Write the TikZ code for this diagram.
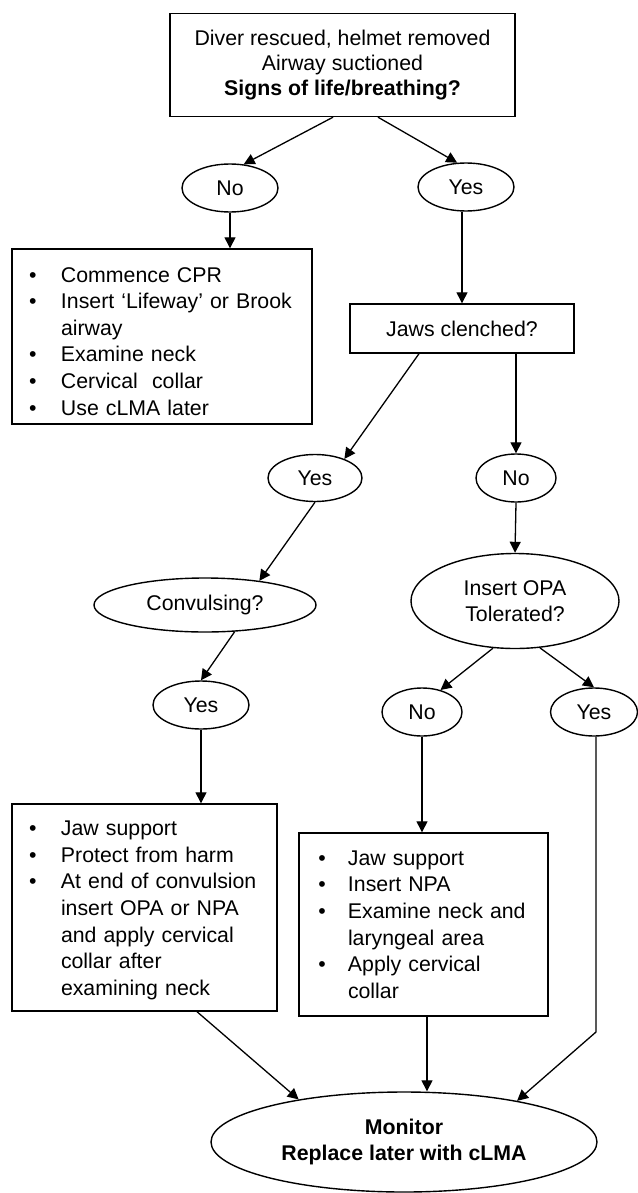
\documentclass[tikz,border=0pt]{standalone}
\usepackage{fontspec}
\setmainfont{Liberation Sans}
\usetikzlibrary{shapes.geometric,arrows.meta}
\newlength\bind
\setlength\bind{32pt}
\newcommand\bitem{\par\noindent\hangindent=\bind\hangafter=1\makebox[\bind][l]{\textbullet}\ignorespaces}
\newcommand\nl{\hfil\break}
\begin{document}
\begin{tikzpicture}[x=1pt,y=-1pt,
  every node/.style={font=\fontsize{21.3}{26.6}\selectfont, line width=1.4pt},
  box/.style={draw, rectangle, inner sep=0pt},
  oval/.style={draw, ellipse, inner sep=0pt, align=center},
  lst/.style={draw, rectangle, inner ysep=0pt},
  arr/.style={-{Triangle[length=11pt,width=11pt]}, line width=1.3pt}
]
\useasboundingbox (0,0) rectangle (637,1193);

\node[box, minimum width=345pt, minimum height=103pt, align=center,
      font=\fontsize{21.3}{25}\selectfont] (top) at (342.5,65)
  {Diver rescued, helmet removed\\Airway suctioned\\\textbf{Signs of life/breathing?}};

\node[oval, minimum width=96pt, minimum height=48pt] (noA) at (230,188) {No};
\node[oval, minimum width=96pt, minimum height=48pt] (yesA) at (466,187) {Yes};

\node[lst, minimum width=300pt, minimum height=175pt, inner xsep=17pt, text width=266pt] (box1) at (162,336.5)
  {\bitem Commence CPR
   \bitem Insert ‘Lifeway’ or Brook\nl airway
   \bitem Examine neck
   \bitem Cervical\ \ collar
   \bitem Use cLMA later\par\kern2pt};

\node[box, minimum width=224pt, minimum height=49pt] (jaws) at (462,328.5) {Jaws clenched?};

\node[oval, minimum width=94pt, minimum height=47pt] (yesB) at (315,478) {Yes};
\node[oval, minimum width=80pt, minimum height=48pt] (noB) at (516,478) {No};

\node[oval, minimum width=222pt, minimum height=54pt] (conv) at (205,605) {Convulsing?};
\node[oval, minimum width=208pt, minimum height=95pt] (opa) at (515,601) {Insert OPA\\Tolerated?};

\node[oval, minimum width=96pt, minimum height=48pt] (yesC) at (201,705) {Yes};
\node[oval, minimum width=80pt, minimum height=48pt] (noC) at (422,712) {No};
\node[oval, minimum width=87pt, minimum height=48pt] (yesD) at (594,712) {Yes};

\node[lst, minimum width=265pt, minimum height=207pt, inner xsep=17pt, text width=231pt] (box3) at (144.5,907.5)
  {\bitem Jaw support
   \bitem Protect from harm
   \bitem At end of convulsion\nl insert OPA or NPA\nl and apply cervical\nl collar after\nl examining neck\par\kern6pt};

\node[lst, minimum width=249pt, minimum height=183pt, inner xsep=19.3pt, text width=210.4pt] (box4) at (423.5,924.5)
  {\setlength\bind{29.7pt}%
   \bitem Jaw support
   \bitem Insert NPA
   \bitem Examine neck and\nl laryngeal area
   \bitem Apply cervical\nl collar\par\kern12pt};

\node[oval, minimum width=386pt, minimum height=100pt] (mon) at (404,1142)
  {\textbf{Monitor}\\\textbf{Replace later with cLMA}};

\coordinate (bend) at (596,1032);

\draw[arr] ([xshift=-9.5pt]top.south) -- (noA.60);
\draw[arr] ([xshift=35.5pt]top.south) -- (yesA.110);
\draw[arr] (yesA.south -| jaws.north) -- (jaws.north);
\draw[arr] (noA.south) -- (noA.south |- box1.north);
\draw[arr] ([xshift=-43pt]jaws.south) -- (yesB.33);
\draw[arr] (jaws.south -| noB.north) -- (noB.north);
\draw[arr] (yesB.south) -- (conv.24);
\draw[arr] (conv.-42) -- (yesC.north);
\draw[arr] (noB.south) -- (opa.north);
\draw[arr] (opa.-115) -- (noC.50);
\draw[arr] (opa.-62) -- (yesD.north);
\draw[arr] (yesC.south) -- (yesC.south |- box3.north);
\draw[arr] (noC.south) -- (noC.south |- box4.north);
\draw[arr] (yesD.south -| bend) -- (bend) -- (mon.20);
\draw[arr] ([xshift=3.5pt]box4.south) -- ([xshift=3.5pt]box4.south |- mon.north);
\draw[arr] ([xshift=52.5pt]box3.south) -- (mon.158);
\end{tikzpicture}
\end{document}
